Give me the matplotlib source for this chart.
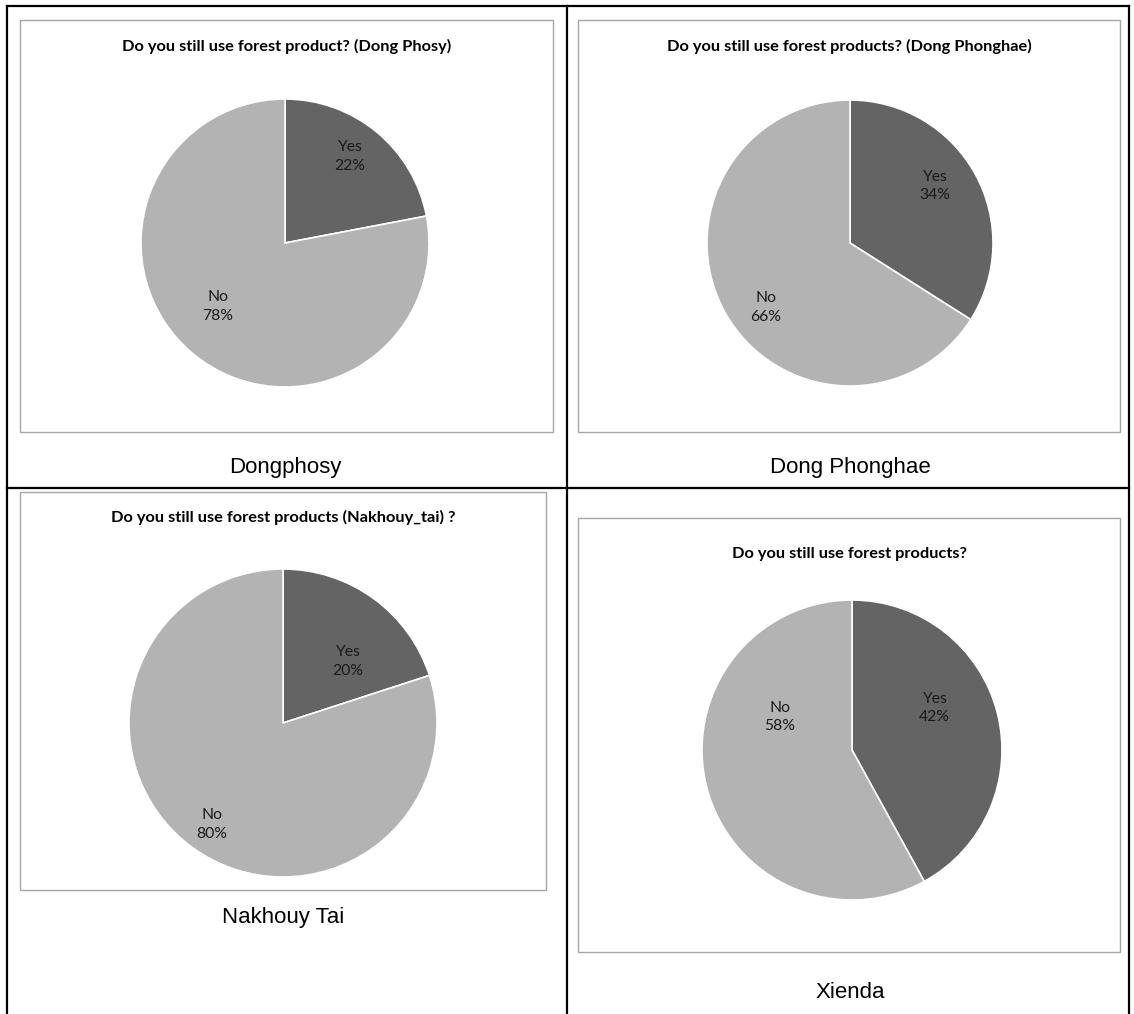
import matplotlib
matplotlib.use("Agg")
import matplotlib.pyplot as plt
from matplotlib.patches import Rectangle
from matplotlib.lines import Line2D

W, H = 1134, 1014

# Survey answers per village
answer_labels = ["Yes", "No"]
dongphosy = [22, 78]
dong_phonghae = [34, 66]
nakhouy_tai = [20, 80]
xienda = [42, 58]

chart_titles = [
    "Do you still use forest product? (Dong Phosy)",
    "Do you still use forest products? (Dong Phonghae)",
    "Do you still use forest products (Nakhouy_tai) ?",
    "Do you still use forest products?",
]
captions = ["Dongphosy", "Dong Phonghae", "Nakhouy Tai", "Xienda"]
series = [dongphosy, dong_phonghae, nakhouy_tai, xienda]

colors = ["#646464", "#b3b3b3"]

fig = plt.figure(figsize=(W / 100, H / 100), dpi=100)
fig.patch.set_facecolor("white")


def fx(x):
    return x / W


def fy(y):
    return 1 - y / H


# table grid
grid_kw = dict(color="black", lw=1.6, transform=fig.transFigure, zorder=5)
for x in (7, 567, 1129):
    fig.add_artist(Line2D([fx(x), fx(x)], [fy(6), fy(1014)], **grid_kw))
for y in (6, 488):
    fig.add_artist(Line2D([fx(7), fx(1129)], [fy(y), fy(y)], **grid_kw))

# layout of each cell: chart box, pie centre/radius, caption position (px)
boxes = [(20, 20, 553, 432), (578, 20, 1120, 432), (20, 492, 546, 890), (578, 518, 1120, 952)]
pies = [(285, 243, 144), (850, 243, 143), (283, 723, 154), (852, 750, 150)]
title_y = [46, 46, 517, 554]
caption_pos = [(285, 467), (850, 467), (283, 918), (850, 993)]
# data-label placement inside each pie, in units of the pie radius
label_offsets = [
    [(0.45, 0.60), (-0.465, -0.44)],
    [(0.59, 0.40), (-0.59, -0.45)],
    [(0.42, 0.40), (-0.46, -0.66)],
    [(0.55, 0.28), (-0.48, 0.22)],
]

for i in range(4):
    x0, y0, x1, y1 = boxes[i]
    fig.add_artist(Rectangle((fx(x0), fy(y1)), fx(x1) - fx(x0), fy(y0) - fy(y1),
                             transform=fig.transFigure, facecolor="white",
                             edgecolor="#a6a6a6", lw=1.0, zorder=-1))
    fig.text(fx((x0 + x1) / 2), fy(title_y[i]), chart_titles[i], ha="center", va="center",
             fontsize=11.8, fontweight="bold", family="Lato")

    cx, cy, r = pies[i]
    ax = fig.add_axes([fx(cx - r), fy(cy + r), fx(2 * r), fy(cy - r) - fy(cy + r)])
    ax.set_zorder(1)
    vals = series[i]
    txt = iter([f"{lab}\n{v}%" for lab, v in zip(answer_labels, vals)])
    wedges, _, autotexts = ax.pie(vals, colors=colors, startangle=90, counterclock=False,
                                  radius=1, autopct=lambda p: next(txt), pctdistance=0.7,
                                  wedgeprops=dict(edgecolor="white", linewidth=1.2),
                                  textprops=dict(fontsize=11.3, family="Lato", color="#1a1a1a",
                                                 linespacing=1.4))
    for t, pos in zip(autotexts, label_offsets[i]):
        t.set_position(pos)
    ax.set_xlim(-1, 1)
    ax.set_ylim(-1, 1)
    ax.set_aspect("equal")
    ax.axis("off")

    px, py = caption_pos[i]
    fig.text(fx(px), fy(py), captions[i], ha="center", va="center",
             fontsize=16, family="Liberation Sans")

fig.savefig("out.png", dpi=100)
